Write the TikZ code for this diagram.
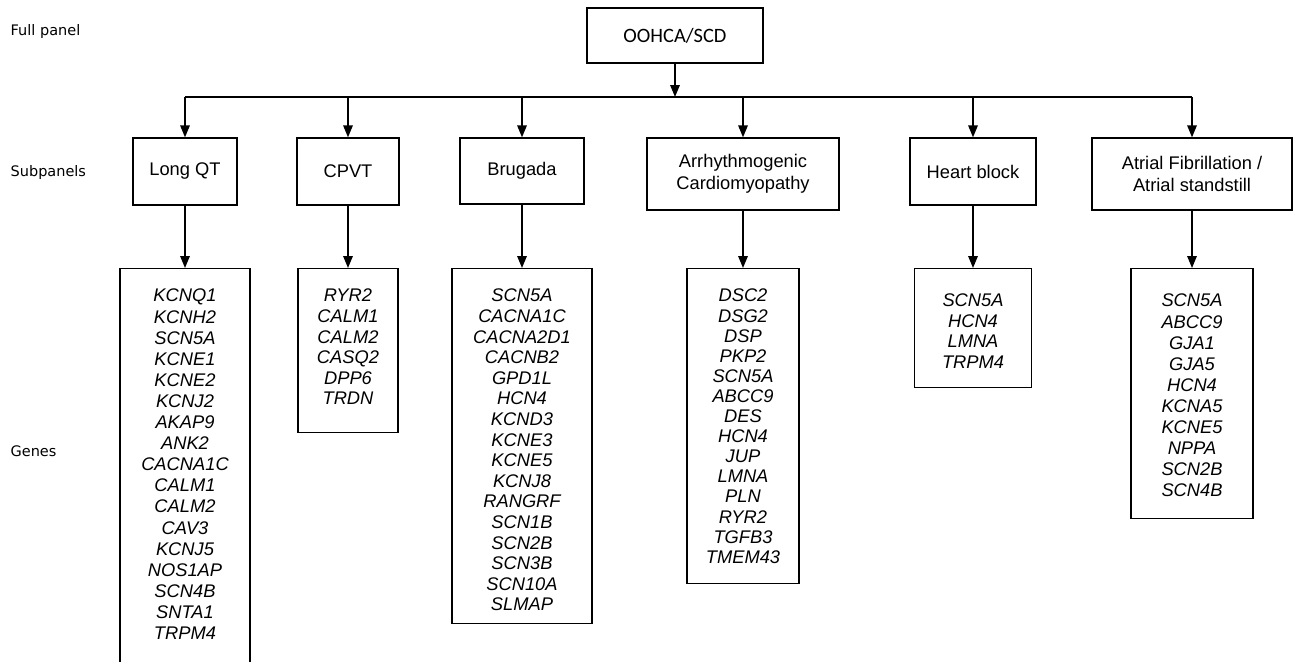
\documentclass[tikz,border=0pt]{standalone}
\usepackage{fontspec}
\setmainfont{Liberation Sans}
\newfontfamily\verdfont{DejaVu Sans}
\newfontfamily\califont{Carlito}
\usetikzlibrary{arrows.meta}
\tikzset{
  sidelabel/.style={font=\verdfont\fontsize{14.5}{17}\selectfont, anchor=west, inner sep=0pt},
  topbox/.style={draw, font=\califont\fontsize{20.4}{24}\selectfont, minimum width=176pt, minimum height=55pt, inner sep=0pt},
  subbox/.style={draw, font=\fontsize{18.3}{21.5}\selectfont, align=center, inner sep=0pt},
  genebox/.style={draw, inner sep=0pt, anchor=north},
  genetext/.style={font=\itshape\fontsize{18.3}{#1}\selectfont, align=center, anchor=north, inner sep=0pt},
  arr/.style={-{Triangle[length=12pt,width=9.5pt]}},
  conn/.style={line width=1.6pt}
}
\begin{document}
\begin{tikzpicture}[x=1pt,y=-1pt,line width=1.3pt]
\useasboundingbox (0,0) rectangle (1300,661);

% side labels
\node[sidelabel] (lfull) at (10,32) {Full panel};
\node[sidelabel] (lsub) at (10,172) {Subpanels};
\node[sidelabel] (lgen) at (10,451) {Genes};

% top box
\node[topbox] (top) at (675,35.5) {OOHCA/SCD};

% bus
\coordinate (busL) at (185,97);
\coordinate (busR) at (1192,97);
\coordinate (busM) at (675,97);

% subpanel boxes
\node[subbox, minimum width=104pt, minimum height=67pt] (lqt) at (185,171.5) {Long QT};
\node[subbox, minimum width=102pt, minimum height=67pt] (cpvt) at (348,171.5) {CPVT};
\node[subbox, minimum width=124pt, minimum height=66pt] (brug) at (522,171) {Brugada};
\node[subbox, minimum width=192pt, minimum height=72pt] (ac) at (743,174) {Arrhythmogenic\\Cardiomyopathy};
\node[subbox, minimum width=126pt, minimum height=67pt] (hb) at (973,171.5) {Heart block};
\node[subbox, minimum width=200pt, minimum height=72pt] (af) at (1192,174) {Atrial Fibrillation /\\Atrial standstill};

% gene boxes
\node[genebox, minimum width=130pt, minimum height=420pt] (glqt) at (185,268) {};
\node[genebox, minimum width=100pt, minimum height=164pt] (gcpvt) at (348,268) {};
\node[genebox, minimum width=140pt, minimum height=355pt] (gbrug) at (522,268) {};
\node[genebox, minimum width=112pt, minimum height=315pt] (gac) at (743,268) {};
\node[genebox, minimum width=117pt, minimum height=119pt] (ghb) at (973,268) {};
\node[genebox, minimum width=122pt, minimum height=250pt] (gaf) at (1192,268) {};

\node[genetext=21.1] (tlqt) at (185,288.5) {KCNQ1\\KCNH2\\SCN5A\\KCNE1\\KCNE2\\KCNJ2\\AKAP9\\ANK2\\CACNA1C\\CALM1\\CALM2\\CAV3\\KCNJ5\\NOS1AP\\SCN4B\\SNTA1\\TRPM4};
\node[genetext=20.6] (tcpvt) at (348,288.5) {RYR2\\CALM1\\CALM2\\CASQ2\\DPP6\\TRDN};
\node[genetext=20.6] (tbrug) at (522,288.5) {SCN5A\\CACNA1C\\CACNA2D1\\CACNB2\\GPD1L\\HCN4\\KCND3\\KCNE3\\KCNE5\\KCNJ8\\RANGRF\\SCN1B\\SCN2B\\SCN3B\\SCN10A\\SLMAP};
\node[genetext=20.1] (tac) at (743,288.5) {DSC2\\DSG2\\DSP\\PKP2\\SCN5A\\ABCC9\\DES\\HCN4\\JUP\\LMNA\\PLN\\RYR2\\TGFB3\\TMEM43};
\node[genetext=20.4] (thb) at (973,293.5) {SCN5A\\HCN4\\LMNA\\TRPM4};
\node[genetext=21.1] (taf) at (1192,293.5) {SCN5A\\ABCC9\\GJA1\\GJA5\\HCN4\\KCNA5\\KCNE5\\NPPA\\SCN2B\\SCN4B};

% connectors
\draw[conn] (busL) -- (busR);
\draw[conn,arr] (top.south) -- (busM);
\foreach \n in {lqt,cpvt,brug,ac,hb,af}{
  \draw[conn,arr] (\n.north |- busL) -- (\n.north);
}
\draw[conn,arr] (lqt.south) -- (glqt.north);
\draw[conn,arr] (cpvt.south) -- (gcpvt.north);
\draw[conn,arr] (brug.south) -- (gbrug.north);
\draw[conn,arr] (ac.south) -- (gac.north);
\draw[conn,arr] (hb.south) -- (ghb.north);
\draw[conn,arr] (af.south) -- (gaf.north);
\end{tikzpicture}
\end{document}
